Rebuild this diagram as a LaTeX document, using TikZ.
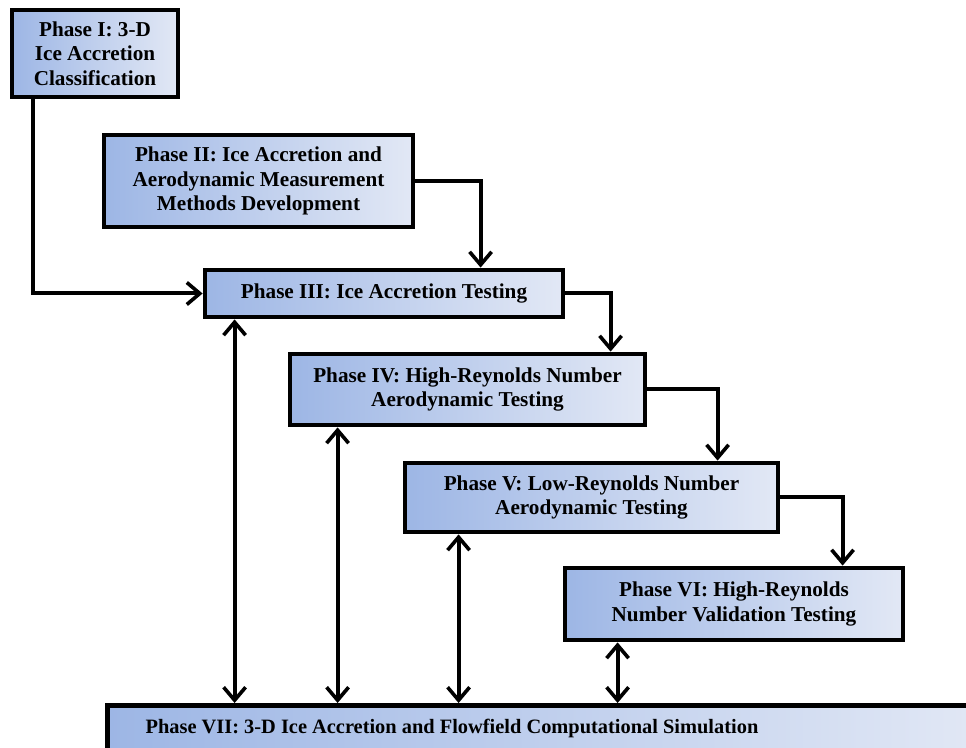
\documentclass[tikz,border=0pt]{standalone}
\usepackage{fontspec}
\setmainfont{Liberation Serif}
\usetikzlibrary{arrows.meta,positioning}

\begin{document}
\begin{tikzpicture}[x=0.5pt,y=-0.5pt,
		phase/.style={draw=black,line width=2.4pt,left color=phaseleft,right color=phaseright,
			inner sep=0pt,align=center,font=\fontsize{10.6}{12.3}\selectfont\bfseries},
		flow/.style={line width=2pt,-{Straight Barb[length=6.5pt,width=11pt,line width=1.8pt]}},
		link/.style={line width=2pt,{Straight Barb[length=6.5pt,width=11pt,line width=1.8pt]}-{Straight Barb[length=6.5pt,width=11pt,line width=1.8pt]}}]
	\definecolor{phaseleft}{RGB}{157,182,229}
	\definecolor{phaseright}{RGB}{226,232,245}
	\useasboundingbox (0,0) rectangle (966,748);
	\clip (0,0) rectangle (966,748);
	% the seven phases
	\node[phase,minimum width=83pt,minimum height=43.5pt] (p1) at (95,53.5)
		{Phase I: 3-D\\Ice Accretion\\Classification};
	\node[phase,minimum width=154.5pt,minimum height=46pt] (p2) at (258.5,181)
		{Phase II: Ice Accretion and\\Aerodynamic Measurement\\Methods Development};
	\node[phase,minimum width=179pt,minimum height=23.5pt] (p3) at (384,293.5)
		{Phase III: Ice Accretion Testing};
	\node[phase,minimum width=177.5pt,minimum height=35.5pt] (p4) at (467.5,389.5)
		{Phase IV: High-Reynolds Number\\Aerodynamic Testing};
	\node[phase,minimum width=186.5pt,minimum height=34.5pt] (p5) at (591.5,497.5)
		{Phase V: Low-Reynolds Number\\Aerodynamic Testing};
	\node[phase,minimum width=169pt,minimum height=36pt] (p6) at (734,604)
		{Phase VI: High-Reynolds\\Number Validation Testing};
	\node[phase,minimum width=440pt,minimum height=46pt,anchor=north west] (p7) at (105,703) {};
	\node[font=\fontsize{10.2}{12.3}\selectfont\bfseries] (p7text) at (452,728)
		{Phase VII: 3-D Ice Accretion and Flowfield Computational Simulation};
	% forward flow between phases
	\draw[flow] ([xshift=11.5pt]p1.south west) |- (p3.west);
	\draw[flow] (p2.east) -| ([xshift=139pt]p3.north west);
	\draw[flow] (p3.east) -| ([xshift=161.5pt]p4.north west);
	\draw[flow] (p4.east) -| ([xshift=157.5pt]p5.north west);
	\draw[flow] (p5.east) -| ([xshift=140pt]p6.north west);
	% exchange with the simulation
	\coordinate (s3) at ([xshift=16pt]p3.south west);
	\coordinate (s4) at ([xshift=25pt]p4.south west);
	\coordinate (s5) at ([xshift=28pt]p5.south west);
	\coordinate (s6) at ([xshift=27.5pt]p6.south west);
	\foreach \s in {s3,s4,s5,s6}
		\draw[link] (\s) -- (\s |- p7.north);
\end{tikzpicture}
\end{document}
